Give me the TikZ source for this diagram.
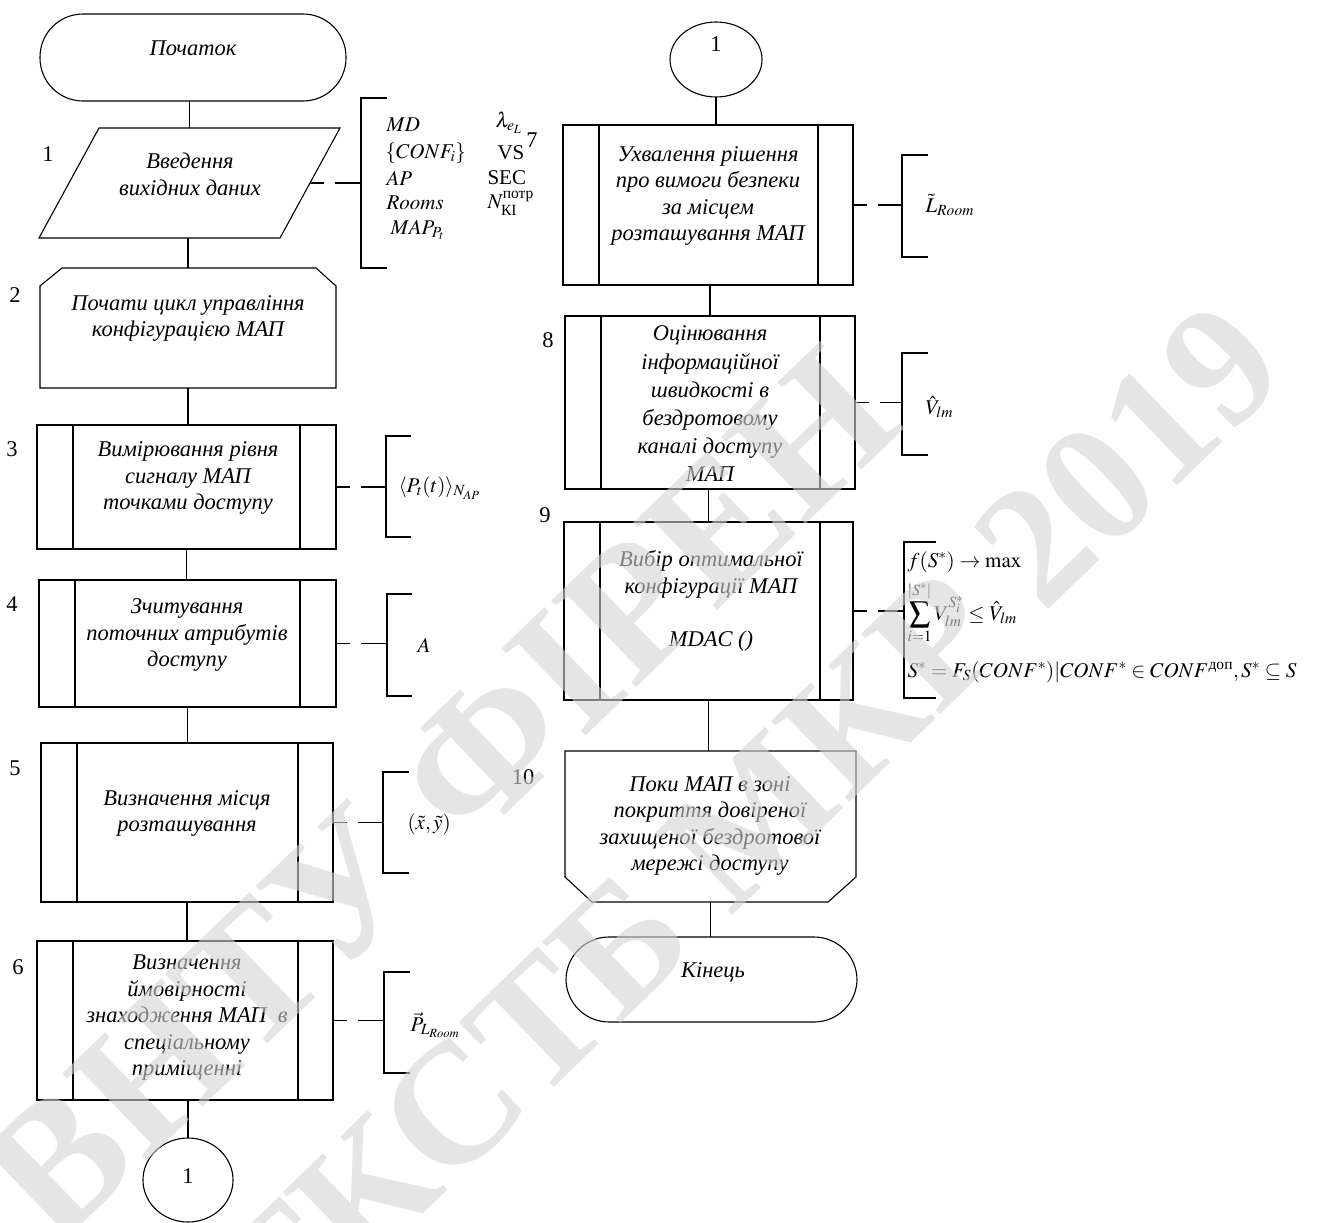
\documentclass[tikz,border=0pt]{standalone}
\usepackage{mathptmx}
\usepackage{amsmath}
\usepackage{fontspec}
\setmainfont{Liberation Serif}
\usetikzlibrary{shapes.geometric,calc}
\newcommand\innerlines[3]{%
  \draw ([xshift=#2]#1.north west) -- ([xshift=#2]#1.south west);
  \draw ([xshift=-#3]#1.north east) -- ([xshift=-#3]#1.south east);}
\newcommand\bracketat[4]{% coord, up, down, tick
  \draw ([xshift=#4,yshift=#2]#1) -- ([yshift=#2]#1) -- ([yshift=-#3]#1) -- ([xshift=#4,yshift=-#3]#1);}
\begin{document}
\begin{tikzpicture}[x=1pt,y=-1pt,line width=1.1pt,
  frame/.style={draw=none,rectangle,inner sep=0pt,outer sep=0pt},
  proc/.style={draw,rectangle,inner sep=0pt,outer sep=0pt},
  term/.style={draw,rectangle,rounded corners=43pt,inner sep=0pt,outer sep=0pt},
  conn/.style={draw,ellipse,inner sep=0pt,outer sep=0pt},
  txt/.style={font=\fontsize{22.5}{26.5}\selectfont\itshape,align=center,inner sep=0pt},
  num/.style={font=\fontsize{22.5}{26.5}\selectfont,inner sep=0pt},
  mth/.style={font=\fontsize{21}{25}\selectfont,inner sep=0pt,anchor=west},
  dashconn/.style={dash pattern=on 14pt off 11pt on 80pt},
  wmark/.style={font=\fontsize{#1}{#1}\selectfont\bfseries,inner sep=0pt,
    text={rgb,255:red,212;green,212;blue,212},text opacity=0.6,rotate=44}]
\useasboundingbox (0,0) rectangle (1317,1223);

% ---------- left column ----------
\node[term,minimum width=306pt,minimum height=87pt] (start) at (193,57.5) {};
\node[txt] (tstart) at (193,48) {Початок};

\node[frame,minimum width=301pt,minimum height=110pt] (n1) at (189.5,183) {};
\draw ([xshift=60pt]n1.north west) -- (n1.north east) -- ([xshift=-60pt]n1.south east) -- (n1.south west) -- cycle;
\node[txt] (t1) at (190,174.5) {Введення\\вихідних даних};

\node[frame,minimum width=296pt,minimum height=120pt] (n2) at (188,328) {};
\draw ([xshift=22pt]n2.north west) -- ([xshift=-20pt]n2.north east) -- ([yshift=-18pt]n2.north east)
  -- (n2.south east) -- (n2.south west) -- ([yshift=-18pt]n2.north west) -- cycle;
\node[txt] (t2) at (188,318.5) {Почати цикл управління\\конфігурацією МАП};

\node[proc,minimum width=299pt,minimum height=124pt] (n3) at (186.5,487) {};
\innerlines{n3}{36pt}{36pt}
\node[txt] (t3) at (188,478) {Вимірювання рівня\\сигналу МАП\\точками доступу};

\node[proc,minimum width=297pt,minimum height=127pt] (n4) at (187.5,643.5) {};
\innerlines{n4}{36pt}{36pt}
\node[txt] (t4) at (187,635) {Зчитування\\поточних атрибутів\\доступу};

\node[proc,minimum width=292pt,minimum height=159pt] (n5) at (187,822.5) {};
\innerlines{n5}{36pt}{35pt}
\node[txt] (t5) at (187,813.5) {Визначення місця\\розташування};

\node[proc,minimum width=296pt,minimum height=159pt] (n6) at (185,1020.5) {};
\innerlines{n6}{36pt}{35pt}
\node[txt] (t6) at (187,1018) {Визначення\\ймовірності\\знаходження МАП\ \ в\\спеціальному\\приміщенні};

\node[conn,minimum width=90pt,minimum height=84pt] (c1) at (188,1180) {};
\node[num] (tc1) at (188,1176) {1};

% connectors left
\draw (n1.north) -- (n1.north |- start.south);
\draw (n2.north) -- (n2.north |- n1.south);
\draw (n3.north -| n2.south) -- (n2.south);
\draw (n4.north -| n3.south) -- (n3.south);
\draw (n5.north -| n4.south) -- (n4.south);
\draw (n6.north -| n5.south) -- (n5.south);
\draw (c1.north) -- (c1.north |- n6.south);

% step numbers
\node[num] (l1) at (48,154) {1};
\node[num] (l2) at (15,295) {2};
\node[num] (l3) at (12,449) {3};
\node[num] (l4) at (12,604) {4};
\node[num] (l5) at (15,768) {5};
\node[num] (l6) at (18,967) {6};

% brackets left
\coordinate (n1e) at ([xshift=-30pt]n1.east);
\coordinate (k1) at ([xshift=51pt]n1e);
\draw[dashconn] (n1e) -- (k1);
\bracketat{k1}{85pt}{85pt}{26pt}
\node[mth] (m1a) at (386,125) {$MD$};
\node[mth] (m1b) at (385,153) {$\{CONF_i\}$};
\node[mth] (m1c) at (386,178) {$AP$};
\node[mth] (m1d) at (386,203) {$Rooms$};
\node[mth] (m1e) at (390,230) {$MAP_{P_t}$};
\node[mth] (m1f) at (495,123) {$\lambda_{e_L}$};
\node[mth] (m1g) at (497,153) {VS};
\node[mth] (m1h) at (487,178) {SEC};
\node[mth] (m1i) at (487,203) {$N_{\text{\normalfont КІ}}^{\text{\normalfont потр}}$};

\coordinate (k3) at ([xshift=50pt]n3.east);
\draw[dashconn] (n3.east) -- (k3);
\bracketat{k3}{51pt}{50pt}{25pt}
\node[mth] (m3) at (398,488) {$\langle P_t(t)\rangle_{N_{AP}}$};

\coordinate (k4) at ([xshift=51pt]n4.east);
\draw[dashconn] (n4.east) -- (k4);
\bracketat{k4}{49.5pt}{52.5pt}{25pt}
\node[mth] (m4) at (417,645) {$A$};

\coordinate (k5) at ([xshift=50pt]n5.east);
\draw[dashconn] (n5.east) -- (k5);
\bracketat{k5}{50.5pt}{50.5pt}{26pt}
\node[mth] (m5) at (407,824) {$(\tilde{x},\tilde{y})$};

\coordinate (k6) at ([xshift=51pt]n6.east);
\draw[dashconn] (n6.east) -- (k6);
\bracketat{k6}{48.5pt}{52.5pt}{26pt}
\node[mth] (m6) at (410,1025) {$\vec{P}_{L_{Room}}$};

% ---------- right column ----------
\node[conn,minimum width=92pt,minimum height=75pt] (c2) at (716,59.5) {};
\node[num] (tc2) at (716,44) {1};

\node[proc,minimum width=290pt,minimum height=160pt] (n7) at (708,205) {};
\innerlines{n7}{36pt}{35pt}
\node[txt] (t7) at (708,196) {Ухвалення рішення\\про вимоги безпеки\\за місцем\\розташування МАП};

\node[proc,minimum width=290pt,minimum height=173pt] (n8) at (710,402.5) {};
\innerlines{n8}{36pt}{35pt}
\node[txt,font=\fontsize{22.5}{28.2}\selectfont\itshape] (t8) at (710,404) {Оцінювання\\інформаційної\\швидкості в\\бездротовому\\каналі доступу\\МАП};

\node[proc,minimum width=289pt,minimum height=178pt] (n9) at (708.5,611) {};
\innerlines{n9}{36pt}{33pt}
\node[txt] (t9) at (711,601) {Вибір оптимальної\\конфігурації МАП\\[26.5pt]MDAC ()};

\node[frame,minimum width=291pt,minimum height=151pt] (n10) at (710.5,826.5) {};
\draw (n10.north west) -- (n10.north east) -- ([yshift=25pt]n10.south east) -- ([xshift=-28pt]n10.south east)
  -- ([xshift=27pt]n10.south west) -- ([yshift=25pt]n10.south west) -- cycle;
\node[txt] (t10) at (710,826) {Поки МАП в зоні\\покриття довіреної\\захищеної бездротової\\мережі доступу};

\node[term,minimum width=291pt,minimum height=85pt] (end) at (711.5,979.5) {};
\node[txt] (tend) at (713,972) {Кінець};

\draw (n7.north -| c2.south) -- (c2.south);
\draw (n8.north) -- (n8.north |- n7.south);
\draw (n9.north) -- (n9.north |- n8.south);
\draw (n10.north -| n9.south) -- (n9.south);
\draw (end.north -| n10.south) -- (n10.south);

\node[num] (l7) at (532,140) {7};
\node[num] (l8) at (548,340) {8};
\node[num] (l9) at (545,515) {9};
\node[num] (l10) at (523,777) {10};

\coordinate (k7) at ([xshift=49pt]n7.east);
\draw[dashconn] (n7.east) -- (k7);
\bracketat{k7}{50pt}{52pt}{26pt}
\node[mth] (m7) at (925,205) {$\tilde{L}_{Room}$};

\coordinate (k8) at ([xshift=47pt]n8.east);
\draw[dashconn] (n8.east) -- (k8);
\bracketat{k8}{49.5pt}{52.5pt}{26pt}
\node[mth] (m8) at (925,407) {$\hat{V}_{lm}$};

\coordinate (k9) at ([xshift=51pt]n9.east);
\draw[dashconn] (n9.east) -- (k9);
\bracketat{k9}{69pt}{87pt}{32pt}
\node[mth] (m9a) at (907,562) {$f(S^*)\to\max$};
\node[mth] (m9b) at (907,613) {$\displaystyle\sum_{i=1}^{|S^*|} V_{lm}^{S_i^*}\le\hat{V}_{lm}$};
\node[mth] (m9c) at (907,672) {$S^*=F_S(CONF^*)|CONF^*\in CONF^{\text{\normalfont доп}},S^*\subseteq S$};

% ---------- watermark ----------
\node[wmark=185] (wm1) at (440,795) {ВНТУ ФІРЕН};
\node[wmark=172] (wm2) at (745,825) {ТКСТБ МКР 2019};
\end{tikzpicture}
\end{document}
